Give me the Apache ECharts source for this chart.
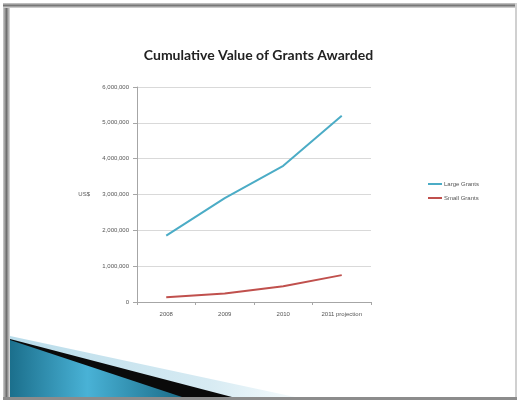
<!DOCTYPE html>
<html>
<head>
<meta charset="utf-8">
<script src="https://cdn.jsdelivr.net/npm/echarts@6/dist/echarts.min.js"></script>
<style>
  html, body { margin: 0; padding: 0; background: #ffffff; }
  #chart { width: 517px; height: 400px; }
</style>
</head>
<body>
<div id="chart"></div>
<script>
// Chart data
const categories = ['2008', '2009', '2010', '2011 projection'];
const largeGrants = [1850000, 2900000, 3800000, 5200000];
const smallGrants = [130000, 240000, 440000, 750000];
const yTicks = [0, 1000000, 2000000, 3000000, 4000000, 5000000, 6000000];
const seriesNames = ['Large Grants', 'Small Grants'];

const chart = echarts.init(document.getElementById('chart'), null, { renderer: 'canvas' });

// Slide frame and the swoosh in the lower-left corner
const frame = [
  { type: 'rect', shape: { x: 0, y: 0, width: 517, height: 400 }, style: { fill: '#ffffff' }, z: -10 },
  { type: 'rect', shape: { x: 3, y: 3, width: 7, height: 397 },
    style: { fill: new echarts.graphic.LinearGradient(0, 0, 1, 0, [
      { offset: 0, color: '#cfcfcf' }, { offset: 0.5, color: '#6f6f6f' }, { offset: 1, color: '#e0e0e0' }]) }, z: -5 },
  { type: 'rect', shape: { x: 3, y: 3, width: 514, height: 5 },
    style: { fill: new echarts.graphic.LinearGradient(0, 0, 0, 1, [
      { offset: 0, color: '#cfcfcf' }, { offset: 0.5, color: '#777777' }, { offset: 1, color: '#e0e0e0' }]) }, z: -5 },
  { type: 'rect', shape: { x: 515, y: 3, width: 2, height: 397 }, style: { fill: '#d0d0d0' }, z: -5 },
  { type: 'rect', shape: { x: 3, y: 397, width: 514, height: 3 }, style: { fill: '#8c8c8c' }, z: -4 },
  { type: 'polygon', shape: { points: [[10, 336], [295, 397], [10, 397]] },
    style: { fill: new echarts.graphic.LinearGradient(0, 0, 1, 0, [
      { offset: 0, color: '#b9dcea' }, { offset: 0.7, color: '#d7ebf3' }, { offset: 1, color: '#f4fafc' }]) }, z: -3 },
  { type: 'polygon', shape: { points: [[10, 339], [232, 397], [10, 397]] },
    style: { fill: '#0a0a0a' }, z: -2 },
  { type: 'polygon', shape: { points: [[10, 340], [182, 397], [10, 397]] },
    style: { fill: new echarts.graphic.LinearGradient(0, 0, 1, 0, [
      { offset: 0, color: '#1b6f8c' }, { offset: 0.45, color: '#49b2d6' }, { offset: 1, color: '#1a6c88' }]) }, z: -1 }
];

chart.setOption({
  animation: false,
  backgroundColor: '#ffffff',
  graphic: frame,
  title: {
    text: 'Cumulative Value of Grants Awarded',
    left: 'center',
    top: 43,
    textStyle: { fontFamily: 'Lato', fontWeight: 'bold', fontSize: 14, color: '#222222' }
  },
  legend: {
    data: seriesNames,
    orient: 'vertical',
    left: 423,
    top: 176,
    itemWidth: 14,
    itemHeight: 2,
    itemGap: 8,
    icon: 'rect',
    textStyle: { fontFamily: 'Liberation Sans', fontSize: 6, color: '#555555', padding: [0, 0, 0, -3] }
  },
  grid: { left: 137, right: 146, top: 87, bottom: 98, containLabel: false },
  xAxis: {
    type: 'category',
    data: categories,
    boundaryGap: true,
    axisLine: { lineStyle: { color: '#a6a6a6', width: 1 } },
    axisTick: { show: true, length: 3, lineStyle: { color: '#a6a6a6' } },
    axisLabel: { fontFamily: 'Liberation Sans', fontSize: 6, color: '#555555', margin: 9 }
  },
  yAxis: {
    type: 'value',
    min: yTicks[0],
    max: yTicks[yTicks.length - 1],
    interval: 1000000,
    name: 'US$',
    nameLocation: 'middle',
    nameRotate: 0,
    nameGap: 47,
    nameTextStyle: { fontFamily: 'Liberation Sans', fontSize: 6, color: '#555555' },
    axisLine: { show: true, lineStyle: { color: '#a6a6a6', width: 1 } },
    axisTick: { show: true, length: 4, lineStyle: { color: '#a6a6a6' } },
    splitLine: { show: true, lineStyle: { color: '#d9d9d9', width: 1 } },
    axisLabel: {
      fontFamily: 'Liberation Sans', fontSize: 6, color: '#555555', margin: 8,
      formatter: v => v.toLocaleString('en-US')
    }
  },
  series: [
    {
      name: seriesNames[0], type: 'line', data: largeGrants,
      symbol: 'none', lineStyle: { color: '#4bacc6', width: 2 }, itemStyle: { color: '#4bacc6' }
    },
    {
      name: seriesNames[1], type: 'line', data: smallGrants,
      symbol: 'none', lineStyle: { color: '#c0504d', width: 2 }, itemStyle: { color: '#c0504d' }
    }
  ]
});
</script>
</body>
</html>
